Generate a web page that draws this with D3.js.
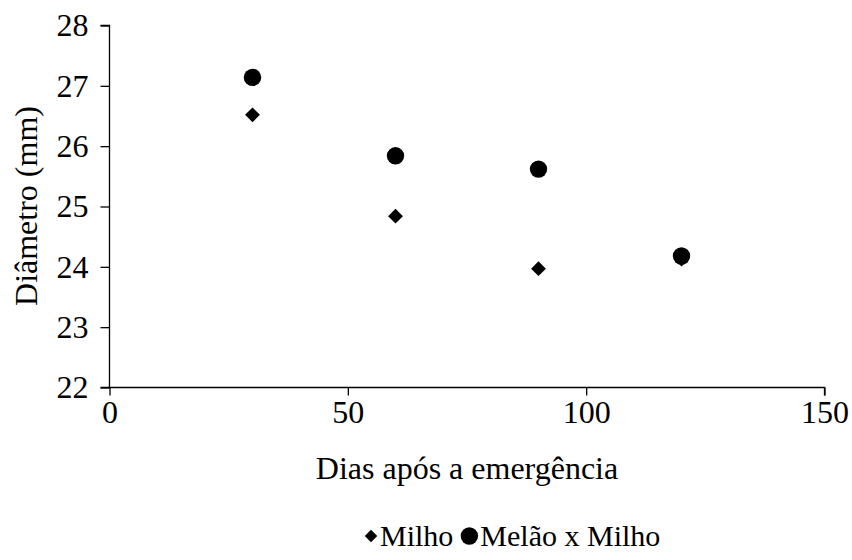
<!DOCTYPE html>
<html><head><meta charset="utf-8">
<script src="https://cdn.jsdelivr.net/npm/d3@7"></script>
<style>body{margin:0;background:#fff}svg{display:block}text{font-family:"Liberation Serif","Times New Roman",serif;fill:#000}</style>
</head><body><svg id="c" width="852" height="560"></svg>
<script>
const days = [30, 60, 90, 120];
const milho = [26.52, 24.84, 23.97, 24.13];
const melaoMilho = [27.14, 25.84, 25.62, 24.18];
const xTicks = [0, 50, 100, 150];
const yTicks = [22, 23, 24, 25, 26, 27, 28];
const seriesNames = ["Milho", "Melão x Milho"];

const svg = d3.select("#c");
const x = d3.scaleLinear().domain([0, 150]).range([109.5, 824.5]);
const y = d3.scaleLinear().domain([22, 28]).range([387.5, 25.5]);
const fs = 32;

const xa = svg.append("g").attr("transform", "translate(0,387.5)")
  .call(d3.axisBottom(x).tickValues(xTicks).tickSize(8).tickPadding(5).tickFormat(d3.format("d")));
const ya = svg.append("g").attr("transform", "translate(109.5,0)")
  .call(d3.axisLeft(y).tickValues(yTicks).tickSize(9).tickPadding(12).tickFormat(d3.format("d")));
[xa, ya].forEach(a => {
  a.attr("font-family", null).attr("font-size", null);
  a.select(".domain").attr("stroke", "#000").attr("stroke-width", 1.3);
  a.selectAll(".tick line").attr("stroke", "#000").attr("stroke-width", 1.3);
  a.selectAll(".tick text").attr("font-size", fs).attr("fill", "#000");
});
ya.select(".domain").attr("d", "M-9,25.5H0V387.5");
xa.select(".domain").attr("d", "M100.5,0H824.5V8");

svg.append("text").attr("transform", "translate(37,206) rotate(-90)")
  .attr("text-anchor", "middle").attr("font-size", fs).text("Diâmetro (mm)");
svg.append("text").attr("x", 467).attr("y", 479)
  .attr("text-anchor", "middle").attr("font-size", fs).text("Dias após a emergência");

const diamond = d3.symbol().type(d3.symbolDiamond2).size(140);
svg.append("g").selectAll("circle").data(days.map((d, i) => [d, melaoMilho[i]])).join("circle")
  .attr("cx", d => x(d[0])).attr("cy", d => y(d[1])).attr("r", 8.7).attr("fill", "#000");
svg.append("g").selectAll("path").data(days.map((d, i) => [d, milho[i]])).join("path")
  .attr("transform", d => `translate(${x(d[0])},${y(d[1])})`).attr("d", diamond).attr("fill", "#000");

// legend
const lfs = 30;
const lg = svg.append("g");
const t1 = lg.append("text").attr("x", 380).attr("y", 546).attr("font-size", lfs).text(seriesNames[0]);
lg.append("path").attr("transform", "translate(371,536)").attr("d", d3.symbol().type(d3.symbolDiamond2).size(100)).attr("fill", "#000");
const w1 = t1.node().getComputedTextLength();
const cx = 380 + w1 + 16;
lg.append("circle").attr("cx", cx).attr("cy", 536).attr("r", 8.7).attr("fill", "#000");
lg.append("text").attr("x", cx + 11).attr("y", 546).attr("font-size", lfs).text(seriesNames[1]);
</script></body></html>
